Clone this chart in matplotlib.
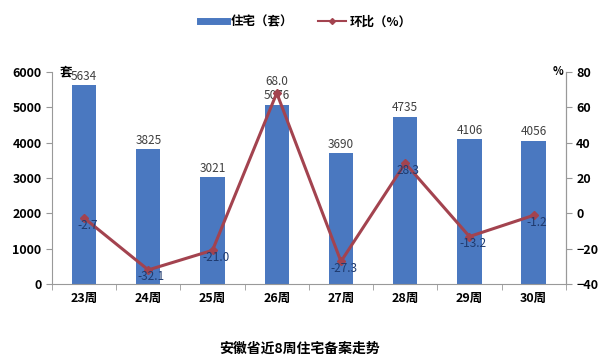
import matplotlib
matplotlib.use('Agg')
import matplotlib.pyplot as plt
import numpy as np
from matplotlib.lines import Line2D

plt.rcParams['font.family'] = ['Noto Sans CJK SC', 'DejaVu Sans']

weeks = ['23周', '24周', '25周', '26周', '27周', '28周', '29周', '30周']
units = [5634, 3825, 3021, 5076, 3690, 4735, 4106, 4056]
mom = [-2.7, -32.1, -21.0, 68.0, -27.3, 28.3, -13.2, -1.2]

bar_color = '#4a78c0'
line_color = '#a3434f'

fig = plt.figure(figsize=(6.11, 3.63), dpi=100)
ax = fig.add_axes([0.085, 0.218, 0.841, 0.584])
x = np.arange(len(weeks))
ax.bar(x, units, width=0.38, color=bar_color, zorder=2)
ax.set_xlim(-0.5, len(weeks) - 0.5)
ax.set_ylim(0, 6000)
ax.set_yticks(range(0, 6001, 1000))
ax.set_xticks(x)
ax.set_xticklabels(weeks, fontweight='bold', fontsize=9)
ax.set_xticks(np.arange(-0.5, len(weeks), 1), minor=True)
ax.tick_params(axis='x', which='major', length=0, pad=6)
ax.tick_params(axis='x', which='minor', length=4, color='#999999')
ax.tick_params(axis='y', labelsize=9, length=4, color='#999999')
for lab in ax.get_yticklabels():
    lab.set_fontweight('bold')
for s in ['left', 'bottom', 'right']:
    ax.spines[s].set_color('#999999')
ax.spines['top'].set_visible(False)

for xi, v in zip(x, units):
    ax.text(xi, v + 60, str(v), ha='center', va='bottom', fontsize=8.5, color='#404040')

ax2 = ax.twinx()
ax2.plot(x, mom, color=line_color, lw=2.2, marker='D', ms=4, zorder=3)
ax2.set_ylim(-40, 80)
ax2.set_yticks(range(-40, 81, 20))
ax2.tick_params(axis='y', labelsize=9, length=4, color='#999999')
for lab in ax2.get_yticklabels():
    lab.set_fontweight('bold')
ax2.spines['right'].set_color('#999999')
ax2.spines['top'].set_visible(False)
ax2.spines['left'].set_visible(False)
ax2.spines['bottom'].set_visible(False)

for xi, v in zip(x, mom):
    if v == max(mom):
        ax2.text(xi, v + 3, '%.1f' % v, ha='center', va='bottom', fontsize=8.5, color='#404040')
    else:
        ax2.text(xi + 0.05, v - 4, '%.1f' % v, ha='center', va='center', fontsize=8.5, color='#1f3a6e')

ax.text(0.028, 1.0, '套', transform=ax.transAxes, ha='center', va='center', fontsize=9, fontweight='bold')
ax2.text(0.985, 1.0, '%', transform=ax2.transAxes, ha='center', va='center', fontsize=8, fontweight='bold')

handles = [Line2D([0], [0], color=bar_color, lw=5),
           Line2D([0], [0], color=line_color, lw=1.5, marker='D', ms=3)]
fig.legend(handles, ['住宅（套）', '环比（%）'], loc='center', bbox_to_anchor=(0.50, 0.94),
           ncol=2, frameon=False, prop={'size': 9, 'weight': 'bold'}, handlelength=2.2,
           handletextpad=0.3, columnspacing=2)

fig.text(0.49, 0.04, '安徽省近8周住宅备案走势', ha='center', va='center', fontsize=10, fontweight='bold')

fig.savefig('out.png', dpi=100)
